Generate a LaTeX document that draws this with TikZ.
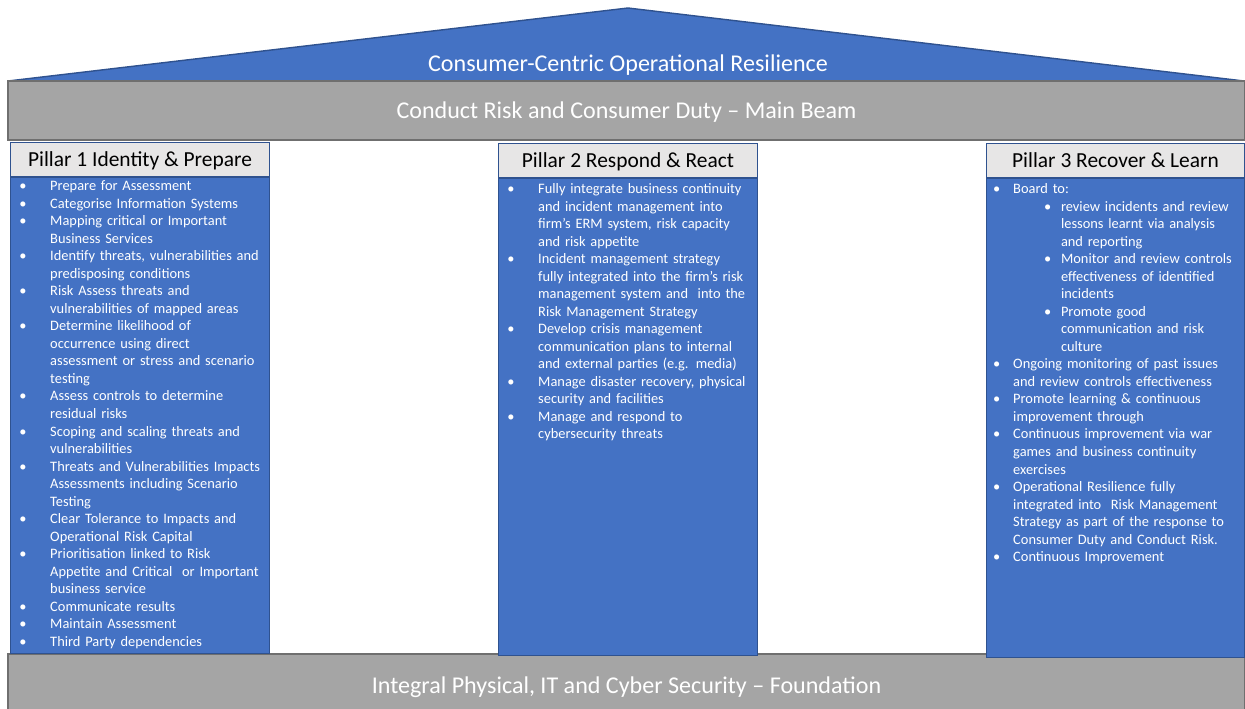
\documentclass[tikz,border=0pt]{standalone}
\usepackage{fontspec}
\setmainfont{Carlito}
\usepackage{enumitem}
\usetikzlibrary{positioning}
\definecolor{RoofBlue}{HTML}{4472C4}
\definecolor{EdgeBlue}{HTML}{2F528F}
\definecolor{BeamGray}{HTML}{A5A5A5}
\definecolor{EdgeGray}{HTML}{6F6F6F}
\definecolor{CapGray}{HTML}{E7E6E6}
% bullet lists inside the pillars
\newlist{pillarlist}{itemize}{2}
\setlist[pillarlist]{label=\textbullet, align=left, itemsep=0pt, parsep=0pt, topsep=0pt, partopsep=0pt}
\setlist[pillarlist,1]{leftmargin=22.7pt, labelwidth=17.6pt, labelsep=0pt}
\setlist[pillarlist,2]{leftmargin=27.2pt, labelwidth=9.6pt, labelsep=0pt}

\begin{document}
\begin{tikzpicture}[
    x=0.02cm, y=-0.02cm,
    roof/.style={draw=EdgeBlue, fill=RoofBlue, line width=0.8pt},
    beam/.style={draw=EdgeGray, fill=BeamGray, line width=0.8pt, inner sep=0pt, minimum width=24.74cm},
    pillarhead/.style={draw=EdgeBlue, fill=CapGray, line width=0.6pt, inner sep=0pt, minimum width=5.18cm, minimum height=0.68cm, text depth=0pt, font=\fontsize{12.2}{14}\selectfont},
    shaft/.style={draw=EdgeBlue, fill=RoofBlue, line width=0.6pt, inner sep=0pt, minimum width=5.18cm},
    title/.style={text=white, text depth=0pt, font=\fontsize{13.7}{16}\selectfont},
    items/.style={text=white, anchor=north west, inner sep=0pt, text width=160pt, align=left, font=\fontsize{8.2}{9.98}\selectfont}
]
\useasboundingbox (0,0) rectangle (1245,709);

% roof and main beam
\draw[roof] (8,81) -- (628,8) -- (1244,81) -- cycle;
\node[title] (rooftitle) at (628,63) {Consumer-Centric Operational Resilience};
\node[beam, title, minimum height=1.18cm] (beam) at (626.5,110.5) {Conduct Risk and Consumer Duty -- Main Beam};

% foundation
\node[beam, title, minimum height=1.24cm] (base) at (626.5,685) {Integral Physical, IT and Cyber Security -- Foundation};

% pillar 1
\node[pillarhead, anchor=north west] (head1) at (10,142) {Pillar 1 Identity \& Prepare};
\node[shaft, minimum height=9.52cm, below=0pt of head1] (shaft1) {};
\node[items] (list1) at ([yshift=2.5pt]shaft1.north west) {%
\begin{pillarlist}
\item Prepare for Assessment
\item Categorise Information Systems
\item Mapping critical or Important\newline Business Services
\item Identify threats, vulnerabilities and\newline predisposing conditions
\item Risk Assess threats and\newline vulnerabilities of mapped areas
\item Determine likelihood of\newline occurrence using direct\newline assessment or stress and scenario\newline testing
\item Assess controls to determine\newline residual risks
\item Scoping and scaling threats and\newline vulnerabilities
\item Threats and Vulnerabilities Impacts\newline Assessments including Scenario\newline Testing
\item Clear Tolerance to Impacts and\newline Operational Risk Capital
\item Prioritisation linked to Risk\newline Appetite and Critical\ \ or Important\newline business service
\item Communicate results
\item Maintain Assessment
\item Third Party dependencies
\end{pillarlist}};

% pillar 2
\node[pillarhead, anchor=north west] (head2) at (498,143) {Pillar 2 Respond \& React};
\node[shaft, minimum height=9.54cm, below=0pt of head2] (shaft2) {};
\node[items] (list2) at ([yshift=1.4pt]shaft2.north west) {%
\begin{pillarlist}
\item Fully integrate business continuity\newline and incident management into\newline firm’s ERM system, risk capacity\newline and risk appetite
\item Incident management strategy\newline fully integrated into the firm’s risk\newline management system and\ \ into the\newline Risk Management Strategy
\item Develop crisis management\newline communication plans to internal\newline and external parties (e.g. media)
\item Manage disaster recovery, physical\newline security and facilities
\item Manage and respond to\newline cybersecurity threats
\end{pillarlist}};

% pillar 3
\node[pillarhead, anchor=north west, minimum width=5.16cm] (head3) at (986,143) {Pillar 3 Recover \& Learn};
\node[shaft, minimum width=5.16cm, minimum height=9.58cm, below=0pt of head3] (shaft3) {};
\node[items] (list3) at ([yshift=1.4pt]shaft3.north west) {%
\begin{pillarlist}[leftmargin=15.3pt, labelwidth=11.4pt]
\item Board to:
  \begin{pillarlist}
  \item review incidents and review\newline lessons learnt via analysis\newline and reporting
  \item Monitor and review controls\newline effectiveness of identified\newline incidents
  \item Promote good\newline communication and risk\newline culture
  \end{pillarlist}
\item Ongoing monitoring of past issues\newline and review controls effectiveness
\item Promote learning \& continuous\newline improvement through
\item Continuous improvement via war\newline games and business continuity\newline exercises
\item Operational Resilience fully\newline integrated into\ \ Risk Management\newline Strategy as part of the response to\newline Consumer Duty and Conduct Risk.
\item Continuous Improvement
\end{pillarlist}};

\end{tikzpicture}
\end{document}
